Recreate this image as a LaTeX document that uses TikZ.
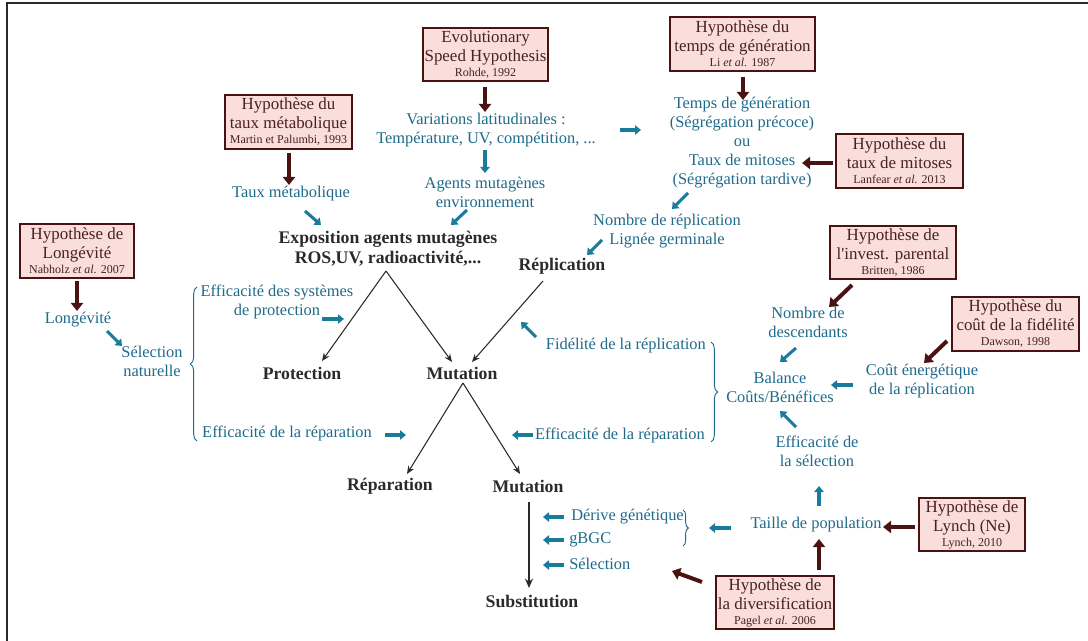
\documentclass[tikz,border=0pt]{standalone}
\usepackage{fontspec}
\setmainfont{Liberation Serif}[Ligatures=TeXOff]
\usetikzlibrary{arrows.meta,decorations.pathreplacing}
\definecolor{tblue}{HTML}{1F6A8A}
\definecolor{ablue}{HTML}{1A7C9C}
\definecolor{maroon}{HTML}{4B1212}
\definecolor{boxfill}{HTML}{FADEDC}
\definecolor{boxtext}{HTML}{4A2020}
\definecolor{dark}{HTML}{2A2A2A}
\newcommand{\smalltxt}{\fontsize{9}{10}\selectfont}
\begin{document}
\begin{tikzpicture}[x=0.75pt,y=-0.75pt,
  hyp/.style 2 args={draw=maroon, line width=1.1pt, fill=boxfill, text=boxtext,
    align=center, font=\fontsize{12.7}{14.25}\selectfont, inner sep=0pt,
    minimum width=#1, minimum height=#2},
  bt/.style={text=tblue, font=\fontsize{12.3}{14.25}\selectfont, align=center, inner sep=0pt},
  kt/.style={text=dark, font=\fontsize{13.3}{15}\selectfont\bfseries, align=center, inner sep=0pt},
  barr/.style={draw=ablue, line width=2.3pt, -{Triangle[length=4.5pt,width=7pt]}},
  rarr/.style={draw=maroon, line width=3pt, -{Triangle[length=6pt,width=9pt]}},
  karr/.style={draw=dark, line width=0.8pt, -{Stealth[length=6pt,width=5pt]}},
  kbig/.style={draw=dark, line width=1.5pt, -{Stealth[length=7pt,width=6pt]}},
  brc/.style={draw=tblue, line width=0.7pt, decorate, decoration={brace, amplitude=#1}},
  brc/.default=5pt
]
\useasboundingbox (0,0) rectangle (1088,641);
\draw[line width=1.5pt, draw=dark] (7,641) -- (7,3) -- (1088,3);

% ---------- hypothesis boxes ----------
\node[hyp={93.75pt}{39.75pt}] (hESH) at (485.5,54.5) {Evolutionary\\Speed Hypothesis\\[-3pt]{\smalltxt Rohde, 1992}};
\node[hyp={108.75pt}{40.5pt}] (hTG) at (742.5,44) {Hypothèse du\\temps de génération\\[-3pt]{\smalltxt Li \textit{et al.} 1987}};
\node[hyp={95.25pt}{40.5pt}] (hTM) at (288.5,122) {Hypothèse du\\taux métabolique\\[-3pt]{\smalltxt Martin et Palumbi, 1993}};
\node[hyp={95.25pt}{40.5pt}] (hMit) at (899.5,161) {Hypothèse du\\taux de mitoses\\[-3pt]{\smalltxt Lanfear \textit{et al.} 2013}};
\node[hyp={85.5pt}{40.5pt}] (hLong) at (77,251) {Hypothèse de\\Longévité\\[-3pt]{\smalltxt Nabholz \textit{et al.} 2007}};
\node[hyp={94.5pt}{39.75pt}] (hPar) at (893,252.5) {Hypothèse de\\l'invest. parental\\[-3pt]{\smalltxt Britten, 1986}};
\node[hyp={95.25pt}{40.5pt}] (hFid) at (1015.5,324) {Hypothèse du\\coût de la fidélité\\[-3pt]{\smalltxt Dawson, 1998}};
\node[hyp={79.5pt}{39.75pt}] (hLyn) at (972,524.5) {Hypothèse de\\Lynch (Ne)\\[-3pt]{\smalltxt Lynch, 2010}};
\node[hyp={88.5pt}{39.75pt}] (hDiv) at (775,602.5) {Hypothèse de\\la diversification\\[-3pt]{\smalltxt Pagel \textit{et al.} 2006}};

% ---------- blue texts ----------
\node[bt] (tMet) at (291,194) {Taux métabolique};
\node[bt] (tVar) at (486,130) {Variations latitudinales :\\Température, UV, compétition, ...};
\node[bt] (tAg) at (485,192) {Agents mutagènes\\environnement};
\node[bt] (tTemps) at (742,143) {Temps de génération\\(Ségrégation précoce)\\ou\\Taux de mitoses\\(Ségrégation tardive)};
\node[bt] (tNrep) at (667,231) {Nombre de réplication\\Lignée germinale};
\node[bt] (tLong) at (78,320) {Longévité};
\node[bt] (tSel) at (152,361) {Sélection\\naturelle};
\node[bt] (tProt) at (277,302) {Efficacité des systèmes\\de protection};
\node[bt] (tRepL) at (287,433) {Efficacité de la réparation};
\node[bt, anchor=east] (tFid) at (706,346) {Fidélité de la réplication};
\node[bt, anchor=east] (tRepR) at (705,435) {Efficacité de la réparation};
\node[bt] (tDesc) at (808,322) {Nombre de\\descendants};
\node[bt] (tBal) at (780,387) {Balance\\Coûts/Bénéfices};
\node[bt] (tCout) at (922,381) {Coût énergétique\\de la réplication};
\node[bt] (tEffS) at (817,451) {Efficacité de\\la sélection};
\node[bt] (tTaille) at (816,525) {Taille de population};
\node[bt, anchor=west] (tDer) at (571,517) {Dérive génétique};
\node[bt, anchor=west] (tgBGC) at (569,540) {gBGC};
\node[bt, anchor=west] (tSelB) at (569,564) {Sélection};

% ---------- black texts ----------
\node[kt] (nExp) at (388,249) {Exposition agents mutagènes\\ROS,UV, radioactivité,...};
\node[kt] (nRep) at (562,266) {Réplication};
\node[kt] (nProt) at (302,373) {Protection};
\node[kt] (nMut) at (462,373) {Mutation};
\node[kt] (nRepa) at (390,486) {Réparation};
\node[kt] (nMut2) at (528,486) {Mutation};
\node[kt] (nSub) at (532,601) {Substitution};

% ---------- black arrows ----------
\coordinate (eApex) at (386,271);
\coordinate (pTip) at (322,361);
\coordinate (mTipA) at (452,362);
\coordinate (rStart) at (543,281);
\coordinate (mTipB) at (472,362);
\coordinate (mApex) at (463,383);
\coordinate (raTip) at (407,474);
\coordinate (m2Tip) at (520,474);
\coordinate (m2Start) at (529,502);
\coordinate (sTip) at (529,588);
\draw[karr] (eApex) -- (pTip);
\draw[karr] (eApex) -- (mTipA);
\draw[karr] (rStart) -- (mTipB);
\draw[karr] (mApex) -- (raTip);
\draw[karr] (mApex) -- (m2Tip);
\draw[kbig] (m2Start) -- (sTip);

% ---------- blue arrows ----------
\coordinate (b1s) at (305,211); \coordinate (b1e) at (321,225);
\coordinate (b2s) at (485,150); \coordinate (b2e) at (485,173);
\coordinate (b3s) at (467,210); \coordinate (b3e) at (451,225);
\coordinate (b4s) at (620,130); \coordinate (b4e) at (641,130);
\coordinate (b5s) at (688,193); \coordinate (b5e) at (672,209);
\coordinate (b6s) at (602,240); \coordinate (b6e) at (587,255);
\coordinate (b7s) at (107,331); \coordinate (b7e) at (122,346);
\coordinate (b8s) at (322,319); \coordinate (b8e) at (344,319);
\coordinate (b9s) at (385,435); \coordinate (b9e) at (406,435);
\coordinate (b10s) at (536,337); \coordinate (b10e) at (521,322);
\coordinate (b11s) at (533,435); \coordinate (b11e) at (512,435);
\coordinate (b12s) at (796,348); \coordinate (b12e) at (780,362);
\coordinate (b13s) at (853,385); \coordinate (b13e) at (831,385);
\coordinate (b14s) at (796,427); \coordinate (b14e) at (780,411);
\coordinate (b15s) at (819,506); \coordinate (b15e) at (819,486);
\coordinate (b16s) at (731,528); \coordinate (b16e) at (709,528);
\coordinate (b17s) at (564,517); \coordinate (b17e) at (543,517);
\coordinate (b18s) at (564,540); \coordinate (b18e) at (543,540);
\coordinate (b19s) at (564,565); \coordinate (b19e) at (543,565);
\foreach \i in {1,...,19} {\draw[barr] (b\i s) -- (b\i e);}

% ---------- maroon arrows ----------
\coordinate (r1s) at (289,153); \coordinate (r1e) at (289,185);
\coordinate (r2s) at (485,87); \coordinate (r2e) at (485,112);
\coordinate (r3s) at (743,77); \coordinate (r3e) at (743,100);
\coordinate (r4s) at (833,163); \coordinate (r4e) at (802,163);
\coordinate (r5s) at (77,281); \coordinate (r5e) at (77,311);
\coordinate (r6s) at (852,285); \coordinate (r6e) at (829,307);
\coordinate (r7s) at (947,341); \coordinate (r7e) at (924,363);
\coordinate (r8s) at (915,527); \coordinate (r8e) at (883,527);
\coordinate (r9s) at (819,570); \coordinate (r9e) at (819,539);
\coordinate (r10s) at (702,582); \coordinate (r10e) at (672,571);
\foreach \i in {1,...,10} {\draw[rarr] (r\i s) -- (r\i e);}

% ---------- braces ----------
\coordinate (lbB) at (197,441); \coordinate (lbT) at (197,287);
\coordinate (rbT) at (711,342); \coordinate (rbB) at (711,442);
\coordinate (sbT) at (683,510); \coordinate (sbB) at (683,546);
\draw[brc=5pt] (lbB) -- (lbT);
\draw[brc=5pt] (rbT) -- (rbB);
\draw[brc=4pt] (sbT) -- (sbB);
\end{tikzpicture}
\end{document}
